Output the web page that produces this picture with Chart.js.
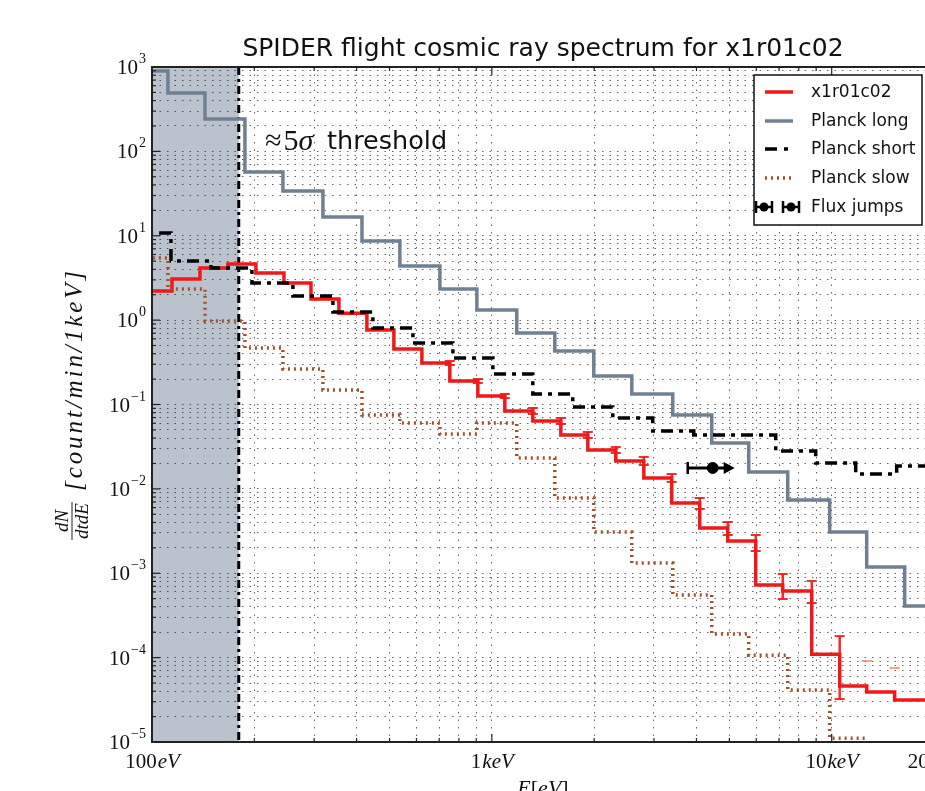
<!DOCTYPE html>
<html>
<head>
<meta charset="utf-8">
<script src="https://cdn.jsdelivr.net/npm/chart.js@4.4.1/dist/chart.umd.min.js"></script>
<style>
html,body{margin:0;padding:0;background:#fff;overflow:hidden}
#wrap{width:925px;height:791px;overflow:hidden}
canvas{display:block}
</style>
</head>
<body>
<div id="wrap"><canvas id="c" width="960" height="820"></canvas></div>
<script>
// energies in eV, rates in count/min/keV
const THRESHOLD_EV=180;
const X_RANGE=[100,20000];
const Y_RANGE=[1e-5,1e3];
const X_TICK_VALUES=[100,1000,10000,20000];
const X_TICK_LABELS=[['100','eV'],['1','keV'],['10','keV'],['20','keV']];
const Y_TICK_EXPONENTS=[-5,-4,-3,-2,-1,0,1,2,3];
const MINOR_STEPS=[2,3,4,5,6,7,8,9];

// x1r01c02
const redEdges=[95.4,114.5,138.4,167.3,202.2,244.5,293.6,354.8,428.9,515,622.5,752.3,909.5,1092,1320,1596,1916,2316,2800,3383,4090,4944,5977,7177,8735,10557,12677,15320,21000];
const redVals=[2.21,3.07,4.15,4.62,3.62,2.75,1.78,1.21,0.764,0.455,0.31,0.19,0.126,0.0837,0.0637,0.0435,0.0289,0.0214,0.01345,0.0068,0.00344,0.00241,0.000726,0.000617,0.00011,4.6e-5,3.92e-5,3.15e-5];
const redErrHi=[null,null,null,null,null,null,null,null,null,null,0.328,0.2005,0.1332,0.0909,0.0692,0.0472,0.0313,0.0239,0.015,0.0078,0.00405,0.00284,0.00098,0.00081,0.00018,9.12e-5,7.53e-5,6.22e-5];
const redErrLo=[null,null,null,null,null,null,null,null,null,null,0.294,0.1798,0.1194,0.0772,0.0587,0.0401,0.0266,0.0192,0.01207,0.00578,0.00284,0.001836,0.000495,0.000444,3.23e-5,null,null,null];

// Planck long / Planck slow share bins
const longEdges=[85.5,111.4,143.2,187.7,242.8,318.4,414.8,536.2,703.3,903.5,1184,1532,1995,2581,3407,4437,5700,7424,9865,12677,16395,21200];
const longVals=[897,492,242,57.0,33.9,16.7,8.67,4.38,2.34,1.32,0.703,0.43,0.218,0.133,0.0751,0.035,0.0158,0.00738,0.00308,0.00119,0.000409];
const slowVals=[5.45,2.34,0.977,0.468,0.264,0.149,0.0751,0.0604,0.0447,0.0604,0.0232,0.0078,0.00308,0.00132,0.000552,0.000191,0.000107,4.13e-5,1.11e-5];

// Planck short
const shortEdges=[86.8,113.7,149.1,196.8,259.8,340.7,446.7,585.7,768,1007,1320,1730,2269,2975,3928,5185,6844,8973,11766,15533,21500];
const shortVals=[10.8,5.02,4.15,2.75,1.93,1.25,0.807,0.536,0.356,0.23,0.133,0.0933,0.0692,0.0485,0.0435,0.0435,0.0281,0.0203,0.015,0.0187];

// flux jumps
const fluxE=[4467];
const fluxRate=[0.0177];
const fluxELo=[3770];
const fluxEHi=[5113];

const RED='#f01818',LONG='#708090',SLOW='#a0522d';
const SERIF='"Liberation Serif", serif',SANS='"DejaVu Sans", sans-serif';

function steps(edges,vals){
  const pts=vals.map((v,i)=>({x:edges[i],y:v}));
  pts.push({x:edges[vals.length],y:vals[vals.length-1]});
  return pts;
}
function gridVals(lo,hi){
  const out=[];
  for(let e=Math.floor(Math.log10(lo));Math.pow(10,e)<=hi;e++){
    [1,...MINOR_STEPS].forEach(m=>{const v=m*Math.pow(10,e);if(v>=lo*0.999&&v<=hi*1.001)out.push(v);});
  }
  return out;
}
const xGrid=gridVals(X_RANGE[0],X_RANGE[1]);
const yGrid=gridVals(Y_RANGE[0],Y_RANGE[1]);

function ln(ctx,x1,y1,x2,y2){ctx.beginPath();ctx.moveTo(x1,y1);ctx.lineTo(x2,y2);ctx.stroke();}
// draw text fitted to a given width using letter spacing
function spacedText(ctx,txt,x,y,width){
  const w=ctx.measureText(txt).width;
  if('letterSpacing' in ctx){
    ctx.letterSpacing=((width-w)/txt.length)+'px';
    ctx.fillText(txt,x,y);
    ctx.letterSpacing='0px';
  }else{
    ctx.save();ctx.translate(x,y);ctx.scale(width/w,1);ctx.fillText(txt,0,0);ctx.restore();
  }
}

const decor={
  id:'decor',
  beforeDraw(chart){
    const {ctx,chartArea:a,scales:{x}}=chart;
    const xt=x.getPixelForValue(THRESHOLD_EV);
    ctx.save();
    ctx.fillStyle='rgb(186,195,205)';
    ctx.fillRect(a.left,a.top,xt-a.left,a.bottom-a.top);
    ctx.restore();
  },
  beforeDatasetsDraw(chart){
    const {ctx,chartArea:a,scales:{x}}=chart;
    const xt=x.getPixelForValue(THRESHOLD_EV);
    ctx.save();
    ctx.strokeStyle='#000';ctx.lineWidth=3;ctx.setLineDash([8,4,3,4]);
    ln(ctx,xt,a.top,xt,a.bottom);
    ctx.restore();
  },
  afterDatasetsDraw(chart){
    const {ctx,chartArea:a,scales:{x,y}}=chart;
    ctx.save();
    ctx.beginPath();ctx.rect(a.left,a.top,a.right-a.left,a.bottom-a.top);ctx.clip();
    redVals.forEach((v,i)=>{
      const hi=redErrHi[i],lo=redErrLo[i];
      if(hi==null)return;
      const px=x.getPixelForValue(redEdges[i+1]);
      const ph=y.getPixelForValue(hi);
      if(lo!=null){
        const pl=y.getPixelForValue(lo);
        ctx.strokeStyle='rgba(240,24,24,0.9)';ctx.lineWidth=2.5;
        ln(ctx,px,ph,px,pl);
        ctx.lineWidth=2;ln(ctx,px-5,ph,px+5,ph);ln(ctx,px-5,pl,px+5,pl);
      }else{
        ctx.strokeStyle='rgba(250,110,90,0.7)';ctx.lineWidth=2;
        ln(ctx,px-5,ph,px+5,ph);
      }
    });
    // flux jump horizontal error bar
    fluxE.forEach((e,i)=>{
      const py=y.getPixelForValue(fluxRate[i]);
      const x0=x.getPixelForValue(fluxELo[i]),x1=x.getPixelForValue(fluxEHi[i]);
      ctx.strokeStyle='#000';ctx.fillStyle='#000';ctx.lineWidth=3;
      ln(ctx,x0,py,x1-4,py);
      ctx.lineWidth=2.5;ln(ctx,x0,py-6,x0,py+6);
      ctx.beginPath();ctx.moveTo(x1+2,py);ctx.lineTo(x1-9,py-6);ctx.lineTo(x1-9,py+6);ctx.closePath();ctx.fill();
    });
    ctx.restore();
  },
  afterDraw(chart){
    const {ctx,chartArea:a,scales:{x,y}}=chart;
    ctx.save();
    // frame
    ctx.strokeStyle='#222';ctx.lineWidth=2;
    ctx.strokeRect(a.left,a.top,a.right-a.left,a.bottom-a.top);
    // inward ticks
    ctx.lineWidth=1.2;
    xGrid.forEach(v=>{
      const px=x.getPixelForValue(v);
      const L=X_TICK_VALUES.includes(v)?8:4;
      ln(ctx,px,a.bottom,px,a.bottom-L);ln(ctx,px,a.top,px,a.top+L);
    });
    yGrid.forEach(v=>{
      const py=y.getPixelForValue(v);
      const L=Math.abs(Math.log10(v)-Math.round(Math.log10(v)))<1e-6?8:4;
      ln(ctx,a.left,py,a.left+L,py);ln(ctx,a.right,py,a.right-L,py);
    });
    ctx.fillStyle='#111';
    // y tick labels 10^n
    ctx.textAlign='left';ctx.textBaseline='alphabetic';
    Y_TICK_EXPONENTS.forEach(e=>{
      const py=y.getPixelForValue(Math.pow(10,e));
      const es=e<0?'\u2212'+(-e):String(e);
      ctx.font='21px '+SERIF;const wb=ctx.measureText('10').width;
      ctx.font='14px '+SERIF;const we=ctx.measureText(es).width;
      const r=a.left-6;
      ctx.font='21px '+SERIF;ctx.fillText('10',r-we-wb-1,py+7);
      ctx.font='14px '+SERIF;ctx.fillText(es,r-we,py-4);
    });
    // x tick labels
    X_TICK_VALUES.forEach((v,i)=>{
      const px=x.getPixelForValue(v);
      const [num,unit]=X_TICK_LABELS[i];
      ctx.font='21px '+SERIF;const wn=ctx.measureText(num).width;
      ctx.font='italic 21px '+SERIF;const wu=ctx.measureText(unit).width;
      const s=px-(wn+wu)/2;
      ctx.font='21px '+SERIF;ctx.fillText(num,s,768);
      ctx.font='italic 21px '+SERIF;ctx.fillText(unit,s+wn+1,768);
    });
    // x axis label (mostly cut off at the bottom)
    {
      const parts=[['E','italic '],['[',''],['eV','italic '],[']','']];
      let w=0;parts.forEach(p=>{ctx.font=p[1]+'22px '+SERIF;w+=ctx.measureText(p[0]).width;});
      let s=(a.left+a.right)/2-w/2;
      parts.forEach(p=>{ctx.font=p[1]+'22px '+SERIF;ctx.fillText(p[0],s,795);s+=ctx.measureText(p[0]).width;});
    }
    // y axis label
    ctx.save();
    ctx.translate(78,405);ctx.rotate(-Math.PI/2);
    ctx.font='italic 19px '+SERIF;
    const wd=ctx.measureText('dtdE').width;
    const fc=-116;
    ctx.textAlign='center';
    ctx.fillText('dN',fc,-10);
    ctx.fillText('dtdE',fc,10);
    ctx.lineWidth=1;ln(ctx,fc-wd/2-1,-6,fc+wd/2+1,-6);
    ctx.textAlign='left';
    ctx.font='italic 25px '+SERIF;
    spacedText(ctx,'[count/min/1keV]',-86,4,223);
    ctx.restore();
    // title
    ctx.textAlign='center';ctx.font='25px '+SANS;ctx.fillStyle='#111';
    ctx.fillText('SPIDER flight cosmic ray spectrum for x1r01c02',(a.left+a.right)/2,56);
    // threshold annotation
    ctx.textAlign='left';
    let tx=265;
    ctx.font='30px '+SERIF;ctx.fillText('\u2248',tx,150);tx+=ctx.measureText('\u2248').width+2;
    ctx.fillText('5',tx,150);tx+=ctx.measureText('5').width;
    ctx.font='italic 30px '+SERIF;ctx.fillText('\u03c3',tx,150);
    ctx.font='25.5px '+SANS;ctx.fillText('threshold',327,149);
    // legend
    const L={x:754,y:75,w:175,h:150};
    ctx.fillStyle='#fff';ctx.fillRect(L.x,L.y,L.w,L.h);
    ctx.strokeStyle='#111';ctx.lineWidth=1.5;ctx.strokeRect(L.x,L.y,L.w-7,L.h);
    const rows=[92,121,149,178,207];
    const names=['x1r01c02','Planck long','Planck short','Planck slow','Flux jumps'];
    const sx0=765,sx1=793;
    ctx.lineWidth=3.5;
    ctx.strokeStyle=RED;ln(ctx,sx0,rows[0],sx1,rows[0]);
    ctx.strokeStyle=LONG;ln(ctx,sx0,rows[1],sx1,rows[1]);
    ctx.strokeStyle='#000';ctx.setLineDash([12,7,4,7]);ln(ctx,sx0,rows[2],sx1+2,rows[2]);
    ctx.strokeStyle=SLOW;ctx.setLineDash([2,4]);ln(ctx,sx0,rows[3],sx1,rows[3]);
    ctx.setLineDash([]);
    ctx.strokeStyle='#000';ctx.fillStyle='#000';
    [764,791].forEach(cx=>{
      ctx.lineWidth=2.5;ln(ctx,cx-8,rows[4],cx+8,rows[4]);
      ln(ctx,cx-8,rows[4]-6,cx-8,rows[4]+6);ln(ctx,cx+8,rows[4]-6,cx+8,rows[4]+6);
      ctx.beginPath();ctx.arc(cx,rows[4],4.5,0,Math.PI*2);ctx.fill();
    });
    ctx.fillStyle='#111';ctx.font='17px '+SANS;ctx.textBaseline='middle';
    names.forEach((n,i)=>ctx.fillText(n,811,rows[i]+1));
    ctx.restore();
  }
};

const logAxis=(range,grid)=>({
  type:'logarithmic',min:range[0],max:range[1],
  afterBuildTicks:s=>{s.ticks=grid.map(v=>({value:v}));},
  ticks:{display:false},
  grid:{color:'rgba(0,0,0,0.6)',lineWidth:1,drawTicks:false},
  border:{display:false,dash:[1.5,6]}
});

const stepDs=(label,data,color,dash,order)=>({
  label,data,borderColor:color,borderWidth:3.5,borderDash:dash,stepped:'before',
  pointRadius:0,fill:false,order,borderCapStyle:'butt'
});

new Chart(document.getElementById('c'),{
  type:'line',
  data:{datasets:[
    stepDs('x1r01c02',steps(redEdges,redVals),RED,[],5),
    stepDs('Planck long',steps(longEdges,longVals),LONG,[],4),
    stepDs('Planck short',steps(shortEdges,shortVals),'#000',[12,6,4,6],3),
    stepDs('Planck slow',steps(longEdges,slowVals),SLOW,[2,4],2),
    {label:'Flux jumps',data:fluxE.map((e,i)=>({x:e,y:fluxRate[i]})),showLine:false,
     pointRadius:5.5,pointBackgroundColor:'#000',pointBorderColor:'#000',order:1}
  ]},
  options:{
    responsive:false,animation:false,devicePixelRatio:1,
    layout:{padding:{left:152,top:67,right:26,bottom:78}},
    plugins:{legend:{display:false},tooltip:{enabled:false},title:{display:false}},
    scales:{x:logAxis(X_RANGE,xGrid),y:logAxis(Y_RANGE,yGrid)}
  },
  plugins:[decor]
});
</script>
</body>
</html>
